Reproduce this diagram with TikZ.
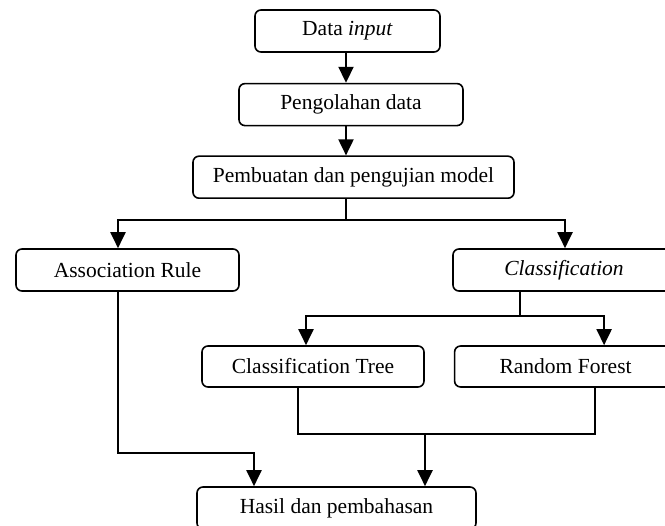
\documentclass[tikz,border=0pt]{standalone}
\usepackage{fontspec}
\setmainfont{Liberation Serif}
\usepackage{tikz}
\usetikzlibrary{positioning,arrows.meta,calc}
\tikzset{
  >={Triangle[length=16pt,width=15pt]},
  box/.style={draw=black, line width=1.6pt, rounded corners=6pt, fill=white,
              minimum height=42pt, inner sep=0pt, align=center,
              font=\fontsize{21.5}{25}\selectfont},
  l/.style={->, line width=2pt, draw=black},
  ln/.style={line width=1.6pt, draw=black},
}
\begin{document}
\begin{tikzpicture}[x=1pt,y=-1pt,node distance=30pt and 30pt]
  \clip (0,0) rectangle (665,526);
  \fill[white] (0,0) rectangle (665,526);
  % main chain
  \node[box,minimum width=185pt] (inp) at (347.5,31) {Data \textit{input}};
  \node[box,minimum width=224pt,below=30pt of inp,xshift=3.5pt] (olah) {Pengolahan data};
  \node[box,minimum width=321pt,below=29pt of olah,xshift=2.5pt] (model) {Pembuatan dan pengujian model};
  % methods
  \node[box,minimum width=223pt] (assoc) at (127.5,270) {Association Rule};
  \node[box,minimum width=222pt] (klas) at (564,270) {\textit{Classification}};
  \node[box,minimum width=222pt,minimum height=41pt] (tree) at (313,366.5) {Classification Tree};
  \node[box,minimum width=222pt,minimum height=41pt,right=29pt of tree] (forest) {Random Forest};
  \node[box,minimum width=279pt] (hasil) at (336.5,508) {Hasil dan pembahasan};
  \coordinate (mid) at (346,220);
  \coordinate (cmid) at (520,316);
  \coordinate (join) at (425,434);
  \draw[l](inp.south -| mid)--(olah.north -| mid);
  \draw[l](olah.south -| mid)--(model.north -| mid);
  \draw[l](model.south -| mid)--(mid)-|([xshift=-9.5pt]assoc.north);
  \draw[l](mid)-|([xshift=1pt]klas.north);
  \draw[ln](klas.south -| cmid)--(cmid);
  \draw[l](cmid)-|([xshift=-7pt]tree.north);
  \draw[l](cmid)-|([xshift=38.5pt]forest.north);
  \draw[ln]([xshift=-15pt]tree.south)|-(join)-|([xshift=29.5pt]forest.south);
  \draw[l](join)--(hasil.north -| join);
  \draw[l]([xshift=-9.5pt]assoc.south)--++(0,161)-|([xshift=-82.5pt]hasil.north);
\end{tikzpicture}
\end{document}
